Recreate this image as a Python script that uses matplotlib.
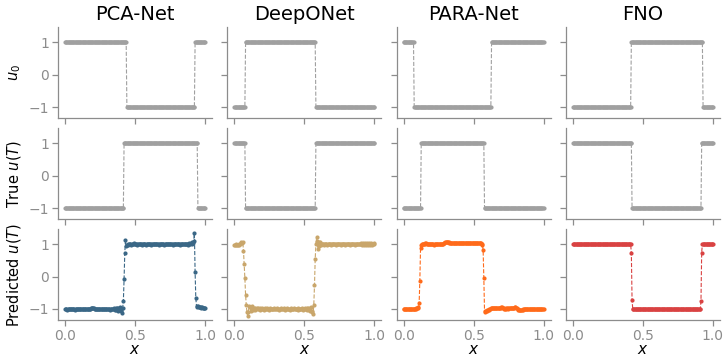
import numpy as np
import matplotlib
matplotlib.use("Agg")
import matplotlib.pyplot as plt

# названия моделей (столбцы)
models = ["PCA-Net", "DeepONet", "PARA-Net", "FNO"]
row_labels = ["$u_0$", "True $u(T)$", "Predicted $u(T)$"]
n_points = 200

# начальные условия: ступеньки (значение, число точек)
u0_pca = [(1, 88), (-1, 97), (1, 15)]
u0_deeponet = [(-1, 16), (1, 100), (-1, 84)]
u0_para = [(1, 15), (-1, 110), (1, 75)]
u0_fno = [(-1, 83), (1, 102), (-1, 15)]

# точное решение в момент T
true_pca = [(-1, 84), (1, 105), (-1, 11)]
true_deeponet = [(1, 16), (-1, 100), (1, 84)]
true_para = [(-1, 25), (1, 90), (-1, 85)]
true_fno = [(1, 84), (-1, 99), (1, 17)]

# предсказания моделей
pred_pca = [
    -0.99, -1.01, -1.0, -1.02, -0.99, -1.0, -1.01, -0.99, -1.0, -1.01,
    -1.0, -0.99, -1.01, -1.0, -1.02, -0.99, -1.0, -1.01, -0.99, -1.0,
    -1.01, -1.0, -0.99, -1.01, -1.0, -1.0, -0.99, -1.01, -1.0, -0.99,
    -1.0, -1.01, -1.0, -0.99, -1.0, -1.01, -0.99, -0.98, -0.97, -0.96,
    -0.96, -0.98, -0.99, -1.0, -1.01, -1.0, -0.99, -1.0, -1.01, -1.0,
    -0.99, -1.0, -1.01, -1.0, -0.99, -1.0, -1.0, -1.01, -0.99, -1.0,
    -1.01, -1.0, -0.99, -1.0, -1.02, -1.0, -0.99, -1.01, -1.0, -0.98,
    -1.0, -1.02, -0.97, -1.03, -0.96, -1.05, -0.98, -1.04, -0.95, -1.07,
    -1.02, -1.12, -0.98, -0.76, -0.09, 0.72, 1.13, 0.93, 0.97, 1.0,
    0.98, 1.01, 0.99, 1.0, 0.98, 1.01, 1.0, 0.99, 1.02, 1.0,
    0.99, 1.0, 1.01, 0.98, 1.0, 1.0, 0.99, 1.01, 1.0, 0.98,
    1.0, 1.01, 0.99, 1.0, 1.0, 0.98, 1.01, 1.0, 0.99, 1.0,
    1.01, 1.0, 0.98, 1.0, 0.99, 1.01, 1.0, 1.0, 0.99, 1.01,
    1.0, 0.99, 1.0, 1.01, 0.98, 1.0, 1.0, 0.99, 1.01, 1.0,
    1.0, 0.98, 1.01, 1.0, 0.99, 1.0, 1.01, 0.99, 1.0, 1.0,
    0.99, 1.01, 1.0, 0.98, 1.0, 1.0, 1.01, 0.99, 1.0, 1.0,
    1.01, 0.99, 1.0, 1.0, 0.98, 1.01, 1.0, 0.99, 1.0, 1.01,
    1.0, 0.99, 1.01, 1.0, 1.0, 0.98, 1.0, 1.02, 1.0, 1.03,
    1.01, 1.05, 1.02, 1.1, 1.34, 0.15, -0.66, -0.91, -0.93, -0.92,
    -0.94, -0.93, -0.95, -0.94, -0.96, -0.95, -0.96, -0.97, -0.96, -0.98,
]
pred_deeponet = [
    0.97, 0.98, 0.97, 0.99, 0.98, 0.97, 0.99, 0.98, 1.0, 1.02,
    1.05, 1.04, 1.06, 0.8, 0.39, -0.05, -0.56, -0.89, -1.1, -1.21,
    -1.08, -0.9, -0.95, -1.05, -0.97, -0.92, -1.0, -1.03, -0.97, -0.98,
    -1.02, -1.0, -0.97, -1.01, -0.98, -1.0, -1.02, -0.98, -0.99, -1.01,
    -0.98, -1.0, -1.02, -0.99, -0.97, -1.0, -1.01, -0.98, -1.0, -1.02,
    -0.99, -0.98, -1.0, -1.01, -0.99, -1.0, -0.98, -1.01, -1.0, -0.99,
    -1.01, -0.98, -1.0, -0.99, -1.02, -1.0, -0.98, -1.0, -1.01, -0.99,
    -0.98, -1.0, -1.02, -0.99, -1.0, -0.98, -1.01, -1.0, -0.99, -1.02,
    -0.98, -1.0, -1.01, -0.99, -1.0, -0.98, -1.0, -1.01, -0.99, -1.0,
    -1.02, -0.98, -1.0, -0.99, -1.01, -1.0, -0.98, -1.0, -1.02, -0.99,
    -1.0, -0.98, -1.01, -0.97, -1.03, -0.96, -1.04, -0.97, -1.05, -0.95,
    -1.06, -1.08, -1.17, -0.88, -0.27, 0.54, 1.0, 1.23, 1.1, 0.85,
    1.08, 0.95, 1.05, 0.98, 1.01, 0.99, 1.0, 0.98, 1.01, 1.0,
    1.0, 1.01, 0.98, 1.0, 1.0, 0.99, 1.01, 1.0, 0.98, 1.0,
    1.01, 0.99, 1.0, 1.0, 0.98, 1.01, 1.0, 0.99, 1.0, 1.01,
    1.0, 0.98, 1.0, 1.01, 0.99, 1.0, 1.0, 0.98, 1.01, 1.0,
    0.99, 1.0, 1.01, 1.0, 0.98, 1.0, 1.0, 0.99, 1.01, 1.0,
    1.0, 0.98, 1.01, 1.0, 0.99, 1.0, 1.0, 1.01, 0.99, 1.0,
    1.02, 0.98, 1.0, 1.03, 0.97, 1.01, 1.03, 0.97, 1.0, 1.03,
    0.97, 1.0, 1.03, 0.97, 1.01, 1.03, 0.98, 1.0, 1.02, 1.01,
]
pred_para = [
    -1.0, -1.0, -1.01, -1.0, -0.99, -1.0, -1.0, -1.01, -1.0, -1.0,
    -0.99, -1.0, -1.0, -1.01, -1.0, -0.99, -1.0, -1.0, -0.98, -0.97,
    -0.96, -0.95, -0.83, -0.14, 0.88, 0.98, 1.0, 0.99, 1.01, 1.0,
    1.02, 1.01, 1.02, 1.0, 1.01, 1.0, 0.99, 1.0, 1.01, 1.0,
    0.99, 1.0, 0.99, 0.98, 0.99, 1.0, 0.99, 1.0, 1.0, 0.99,
    1.0, 0.99, 1.0, 1.01, 1.0, 1.0, 1.01, 1.02, 1.04, 1.05,
    1.06, 1.07, 1.06, 1.05, 1.05, 1.04, 1.04, 1.04, 1.03, 1.04,
    1.03, 1.03, 1.04, 1.03, 1.03, 1.02, 1.03, 1.03, 1.02, 1.03,
    1.03, 1.02, 1.03, 1.02, 1.02, 1.03, 1.02, 1.02, 1.03, 1.02,
    1.02, 1.03, 1.02, 1.02, 1.03, 1.02, 1.02, 1.03, 1.02, 1.03,
    1.02, 1.03, 1.02, 1.03, 1.02, 1.02, 1.03, 1.02, 1.03, 1.02,
    1.02, 1.0, 0.98, 0.82, -0.04, -1.06, -1.08, -1.07, -1.05, -1.04,
    -1.03, -1.02, -1.0, -0.99, -0.98, -0.98, -0.97, -0.97, -0.98, -0.98,
    -0.97, -0.98, -0.98, -0.97, -0.97, -0.98, -0.97, -0.97, -0.96, -0.95,
    -0.94, -0.96, -0.98, -0.99, -1.0, -0.99, -0.98, -0.98, -0.99, -0.98,
    -0.98, -0.97, -0.98, -0.98, -0.97, -0.97, -0.96, -0.96, -0.95, -0.94,
    -0.96, -0.98, -1.0, -1.02, -1.02, -1.03, -1.02, -1.02, -1.02, -1.01,
    -1.02, -1.01, -1.01, -1.01, -1.01, -1.0, -1.01, -1.0, -1.0, -1.0,
    -1.0, -1.0, -1.01, -1.0, -1.0, -1.0, -1.0, -1.0, -1.0, -0.99,
    -1.0, -1.0, -1.0, -0.99, -1.0, -1.0, -1.0, -0.99, -1.0, -1.0,
]
# FNO почти точно повторяет ступеньку
pred_fno = [(1.0, 83), (0.72, 1), (-0.73, 1), (-1.0, 97), (-0.76, 1), (0.74, 1), (1.0, 16)]

u0_all = [u0_pca, u0_deeponet, u0_para, u0_fno]
true_all = [true_pca, true_deeponet, true_para, true_fno]
pred_all = [pred_pca, pred_deeponet, pred_para, pred_fno]
pred_colors = ["#3a6786", "#c9a66b", "#ff6a1a", "#d94242"]
gray = "#a0a0a0"


def expand(runs):
    # разворачиваем пары (значение, количество) в массив
    values = [v for v, _ in runs]
    counts = [c for _, c in runs]
    return np.repeat(values, counts)


def as_array(series):
    if isinstance(series[0], tuple):
        return expand(series)
    return np.asarray(series, dtype=float)


plt.rcParams["font.family"] = "DejaVu Sans"
fig, axes = plt.subplots(3, 4, figsize=(7.25, 3.57), dpi=100, sharex=True, sharey=True)
fig.subplots_adjust(left=0.08, right=0.993, top=0.924, bottom=0.104, wspace=0.1, hspace=0.11)

for j in range(4):
    rows = [as_array(u0_all[j]), as_array(true_all[j]), as_array(pred_all[j])]
    colors = [gray, gray, pred_colors[j]]
    for i in range(3):
        ax = axes[i, j]
        y = rows[i]
        x = np.linspace(0, 1, len(y))
        ax.plot(x, y, color=colors[i], linestyle="--", linewidth=0.8,
                marker="o", markersize=3.0, markeredgewidth=0)
        for side in ["top", "right"]:
            ax.spines[side].set_visible(False)
        for side in ["left", "bottom"]:
            ax.spines[side].set_color("#8c8c8c")
            ax.spines[side].set_linewidth(0.9)
        ax.tick_params(colors="#8c8c8c", labelcolor="#8c8c8c", labelsize=10,
                       length=4, width=0.9, direction="out", pad=2.5)
    axes[0, j].set_title(models[j], fontsize=14, pad=5)
    axes[2, j].set_xlabel("$x$", fontsize=11, labelpad=-1)

for i in range(3):
    axes[i, 0].set_ylabel(row_labels[i], fontsize=10.5)

axes[0, 0].set_yticks([-1, 0, 1])
axes[0, 0].set_xticks([0.0, 0.5, 1.0])

fig.savefig("out.png", dpi=100)
plt.close(fig)
